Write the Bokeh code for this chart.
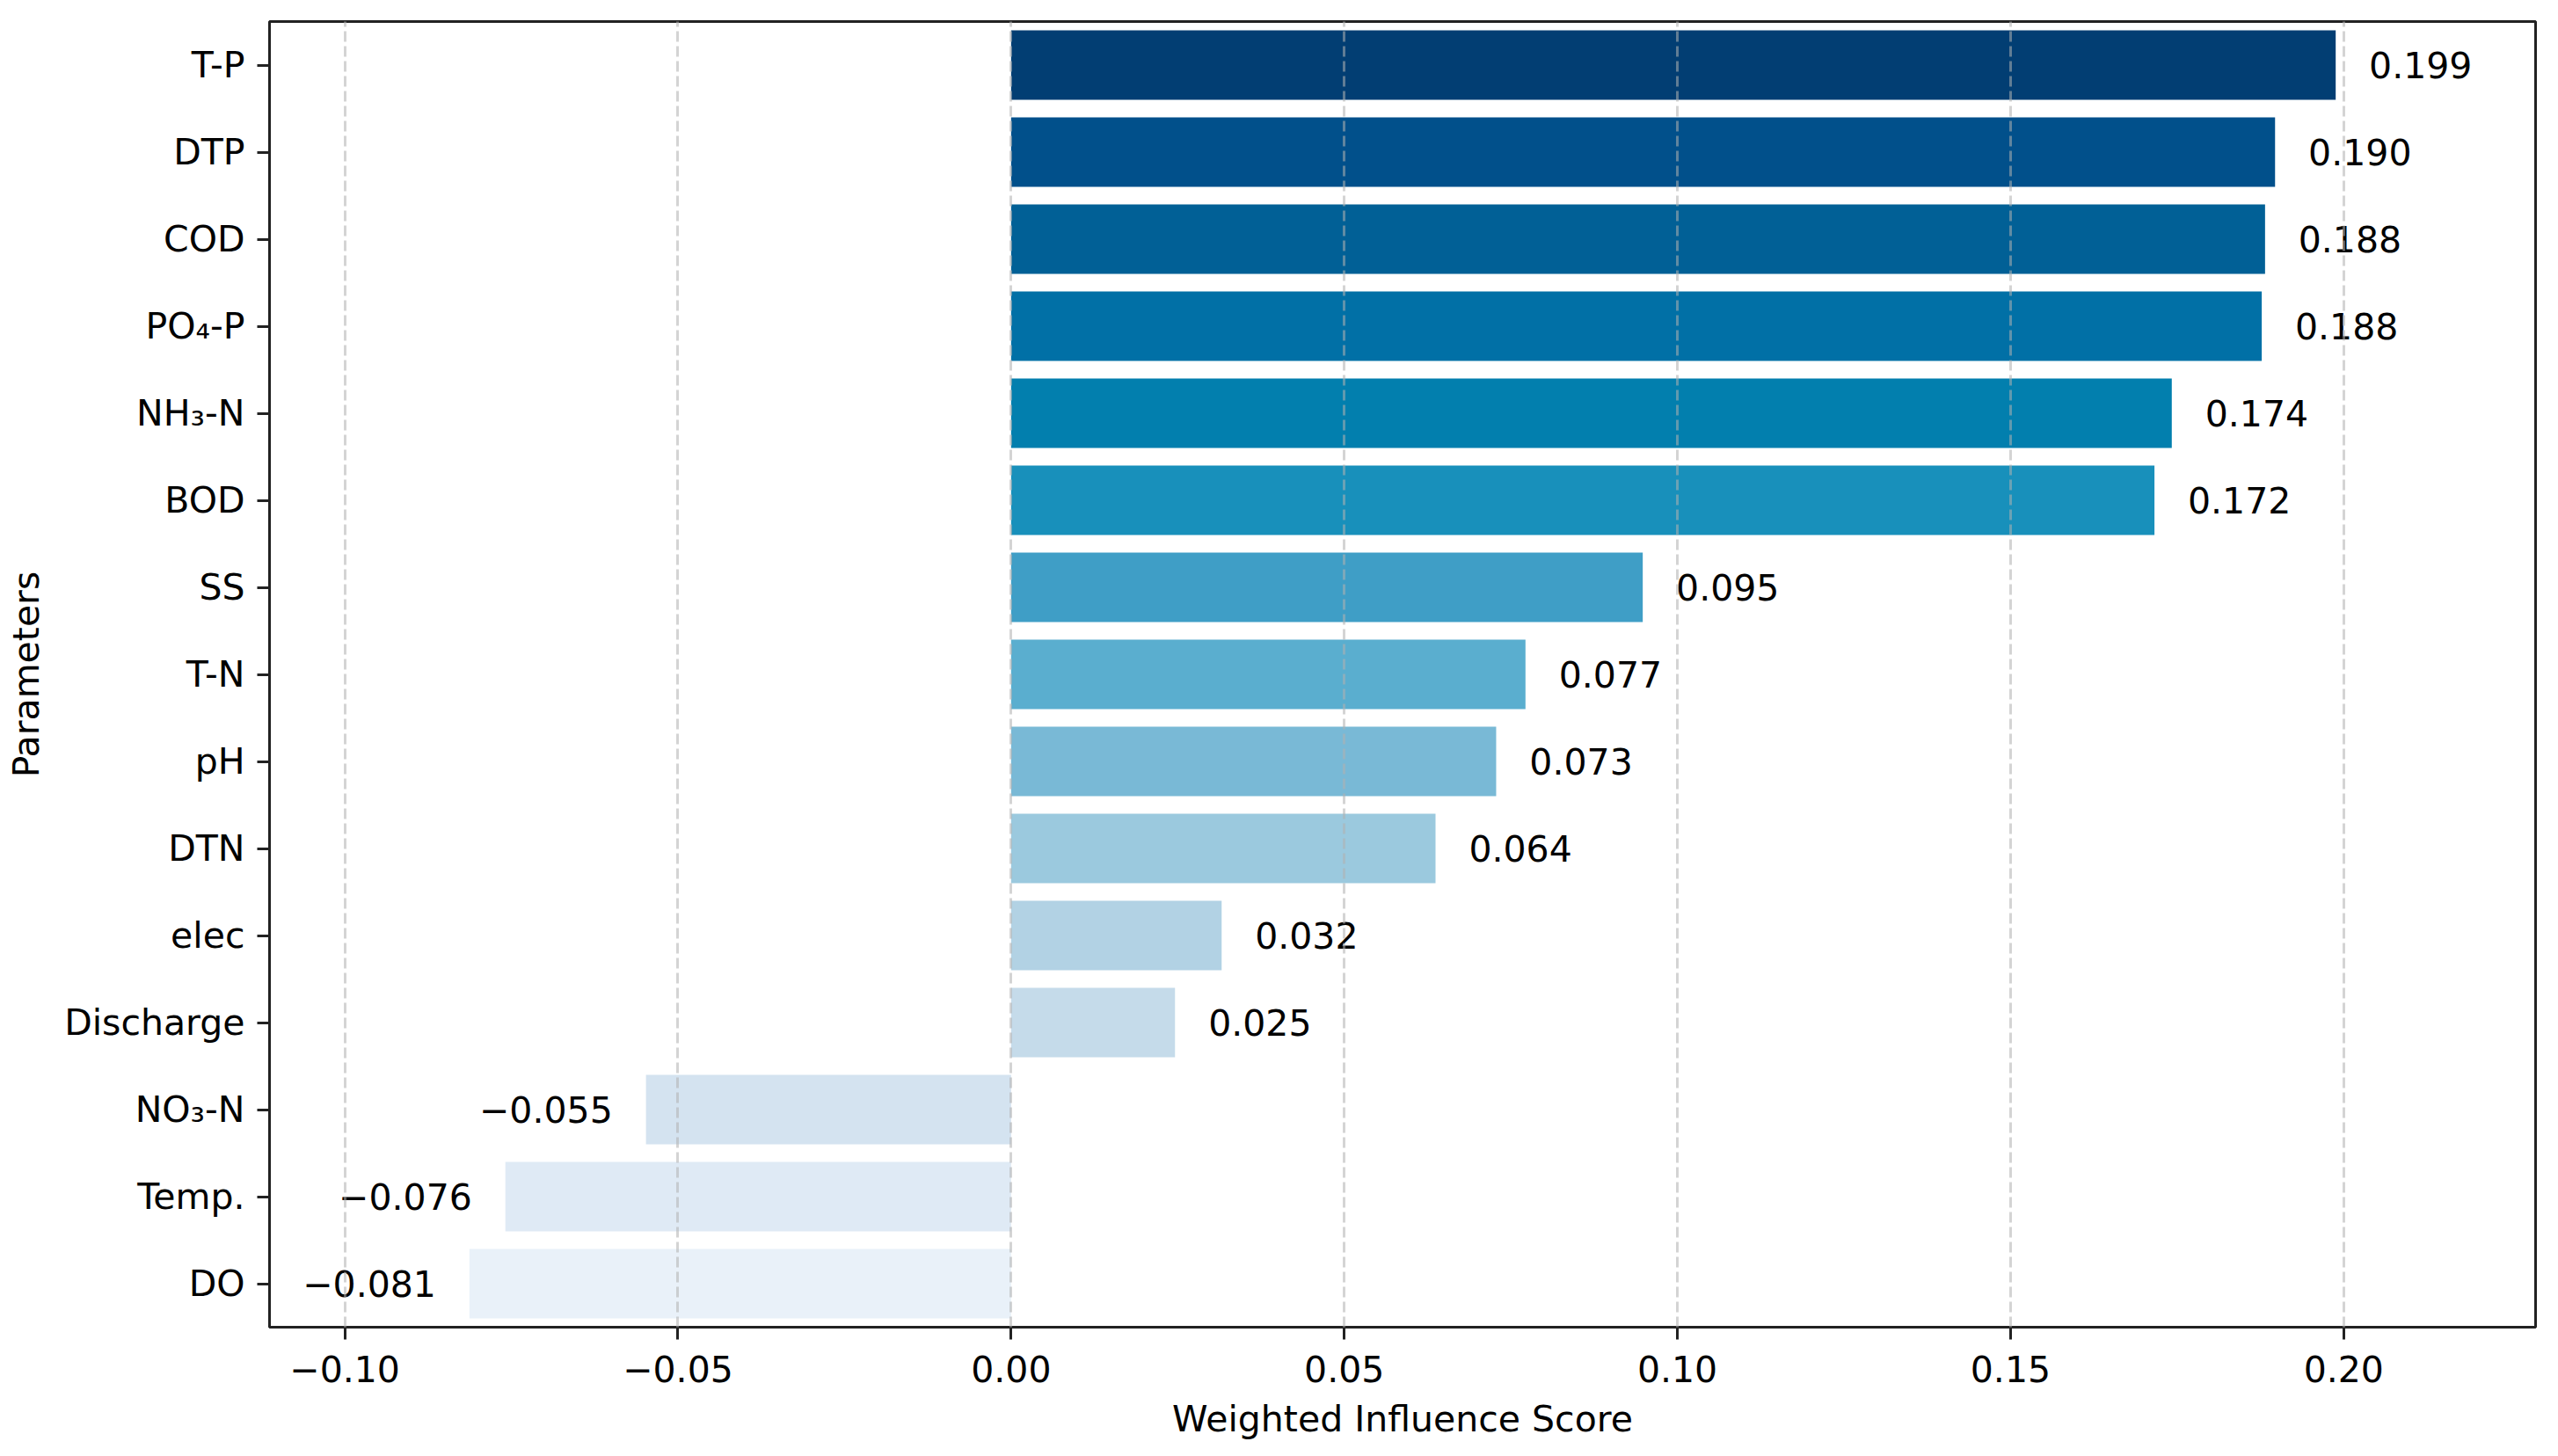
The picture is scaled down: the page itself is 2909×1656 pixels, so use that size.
from bokeh.plotting import figure
from bokeh.models import ColumnDataSource, FactorRange, Range1d, FixedTicker, CustomJSTickFormatter
from bokeh.core.properties import value
from bokeh.embed import file_html
from bokeh.resources import INLINE

# Data (top to bottom as shown)
params = ["T-P", "DTP", "COD", "PO\u2084-P", "NH\u2083-N", "BOD", "SS", "T-N", "pH",
          "DTN", "elec", "Discharge", "NO\u2083-N", "Temp.", "DO"]
scores = [0.1988, 0.1897, 0.1882, 0.1877, 0.1742, 0.1716, 0.0948, 0.0772, 0.0728,
          0.0637, 0.0316, 0.0246, -0.0548, -0.0759, -0.0813]
colors = ["#023e73", "#01508b", "#016096", "#0170a6", "#027fae", "#1890bb", "#3f9ec6",
          "#5aaecf", "#79b9d6", "#9bc9de", "#b2d2e4", "#c5dbea", "#d4e3f0", "#dfeaf5", "#e9f1f9"]
x_ticks = [-0.10, -0.05, 0.00, 0.05, 0.10, 0.15, 0.20]

FONT = "DejaVu Sans"
FS = "41px"
OFF = 0.005

labels = [("\u2212" if v < 0 else "") + f"{abs(v):.3f}" for v in scores]
lx = [v + OFF if v >= 0 else v - OFF for v in scores]
align = ["left" if v >= 0 else "right" for v in scores]

src = ColumnDataSource(dict(param=params, score=scores, color=colors,
                            label=labels, lx=lx, align=align))

p = figure(width=2893, height=1640, output_backend="svg", toolbar_location=None,
           y_range=FactorRange(factors=list(reversed(params)), range_padding=0),
           x_range=Range1d(min(scores) - 0.03, max(scores) + 0.03),
           min_border_left=306, min_border_right=10, min_border_top=24, min_border_bottom=129)

p.hbar(y="param", left=0, right="score", height=0.8, fill_color="color",
       line_color=None, source=src)
p.text(x="lx", y="param", text="label", text_align="align", text_baseline="middle",
       text_font=value(FONT), text_font_size=FS, text_color="black", source=src)

p.outline_line_color = "#222222"
p.outline_line_width = 3
p.outline_line_alpha = 1

p.xaxis.ticker = FixedTicker(ticks=x_ticks)
p.xaxis.formatter = CustomJSTickFormatter(code="""
    const s = Math.abs(tick).toFixed(2);
    return (tick < -1e-9 ? '\u2212' : '') + s;
""")
for ax in (p.xaxis, p.yaxis):
    ax.axis_line_color = None
    ax.major_tick_line_color = "#222222"
    ax.major_tick_line_width = 3
    ax.major_tick_out = 14
    ax.major_tick_in = 0
    ax.minor_tick_line_color = None
    ax.major_label_text_font = FONT
    ax.major_label_text_font_size = FS
    ax.major_label_text_color = "black"
    ax.major_label_standoff = 14
    ax.axis_label_text_font = FONT
    ax.axis_label_text_font_size = FS
    ax.axis_label_text_font_style = "normal"
    ax.axis_label_text_color = "black"

p.xaxis.axis_label = "Weighted Influence Score"
p.yaxis.axis_label = "Parameters"
p.xaxis.major_label_standoff = 18
p.xaxis.axis_label_standoff = 15
p.yaxis.axis_label_standoff = 16

p.xgrid.grid_line_color = "#b0b0b0"
p.xgrid.grid_line_alpha = 0.55
p.xgrid.grid_line_width = 3
p.xgrid.grid_line_dash = "12 5"
p.xgrid.level = "overlay"
p.ygrid.grid_line_color = None

open("out.html", "w").write(file_html(p, INLINE))
